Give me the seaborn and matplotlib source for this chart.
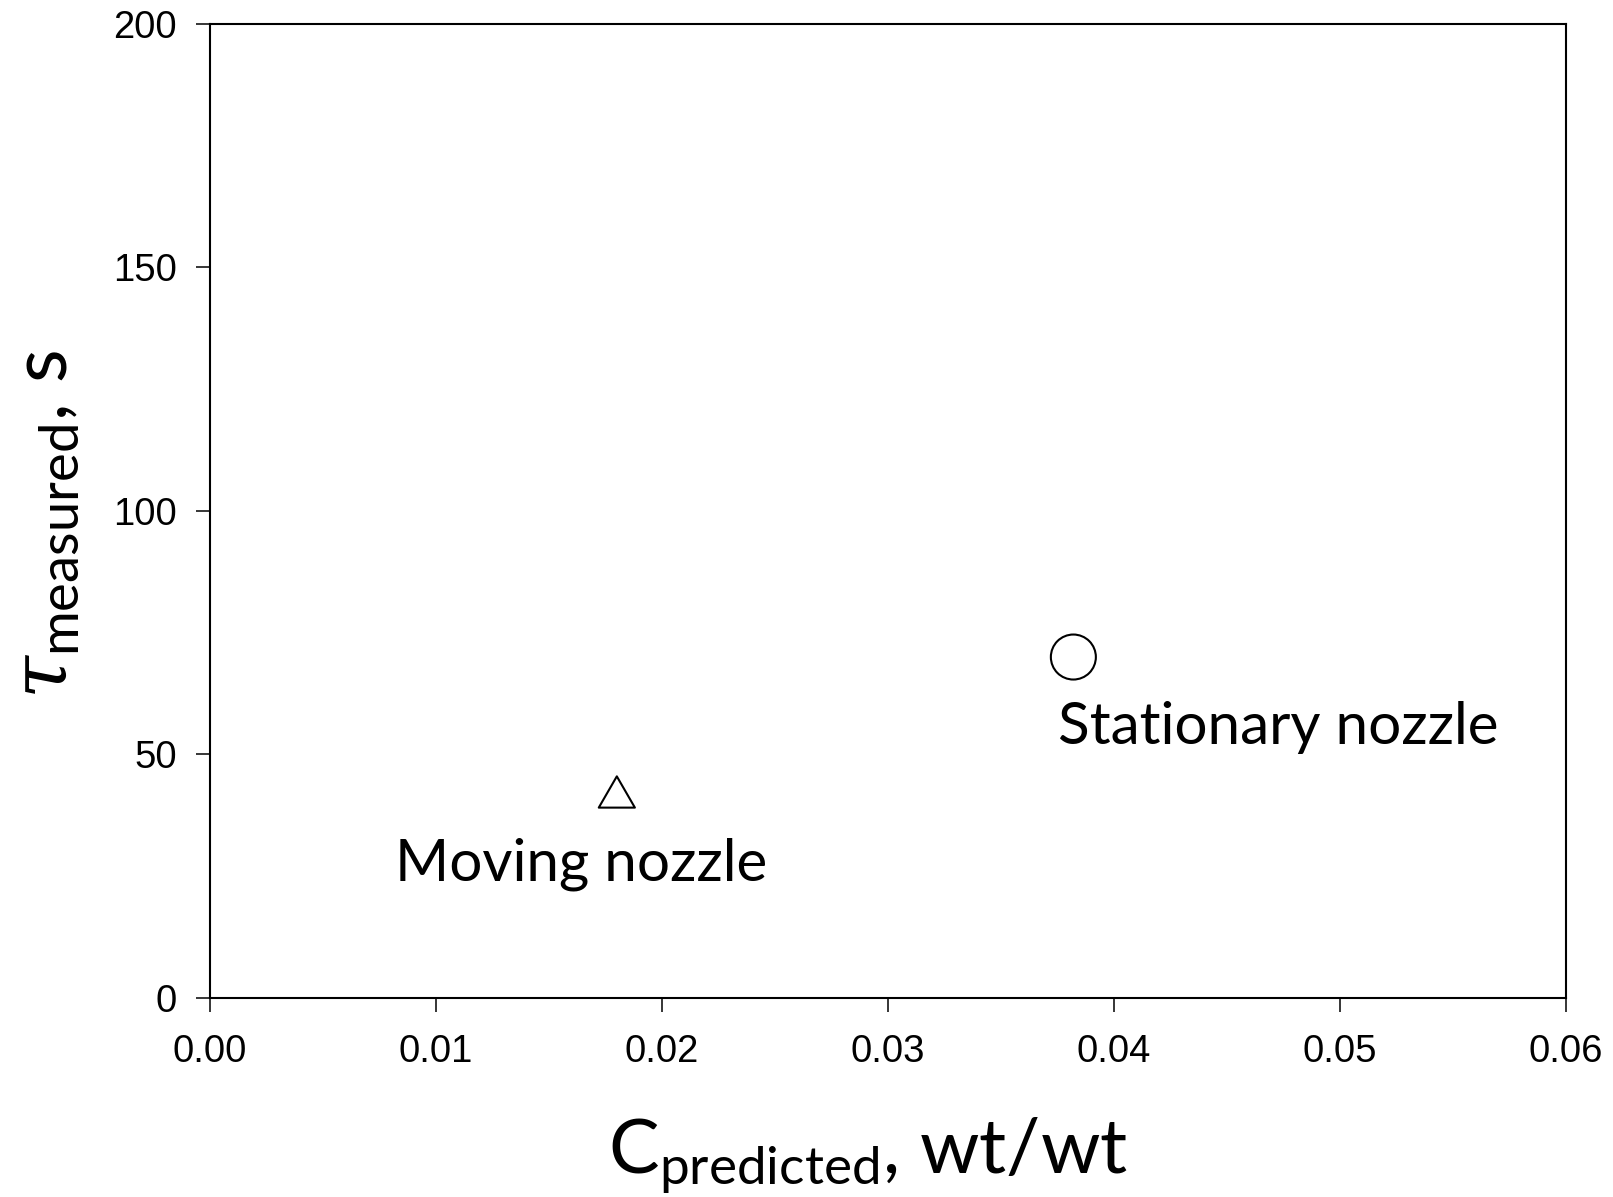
import matplotlib
matplotlib.use("Agg")
import matplotlib.pyplot as plt
from matplotlib.path import Path
import seaborn as sns
import pandas as pd

# data
nozzle = ["Moving nozzle", "Stationary nozzle"]
c_predicted = [0.0180, 0.0382]
tau_measured = [42.3, 70.0]
label_x = [0.0082, 0.0375]
label_y = [24.2, 52.2]

x_ticks = [0.00, 0.01, 0.02, 0.03, 0.04, 0.05, 0.06]
y_ticks = [0, 50, 100, 150, 200]

df = pd.DataFrame({"nozzle": nozzle, "c": c_predicted, "tau": tau_measured})

sns.set_style("ticks")
plt.rcParams["font.family"] = ["Liberation Sans", "DejaVu Sans"]
plt.rcParams["text.color"] = "black"
plt.rcParams["axes.labelcolor"] = "black"
plt.rcParams["mathtext.fontset"] = "custom"
plt.rcParams["mathtext.rm"] = "Lato"
plt.rcParams["mathtext.it"] = "DejaVu Serif:italic"

fig = plt.figure(figsize=(16.13, 11.97), dpi=100)
ax = fig.add_axes([0.1302, 0.1662, 0.8407, 0.8140])

tri = Path([(0, 0.433), (-0.5, -0.433), (0.5, -0.433), (0, 0.433)], closed=True)
marker_for = {"Moving nozzle": (tri, 676), "Stationary nozzle": ("o", 1050)}

for name, sub in df.groupby("nozzle"):
    m, s = marker_for[name]
    sns.scatterplot(data=sub, x="c", y="tau", marker=m, s=s,
                    facecolor="none", edgecolor="black", linewidth=1.5,
                    ax=ax, legend=False, zorder=3)

for name, lx, ly in zip(nozzle, label_x, label_y):
    ax.text(lx, ly, name, fontsize=42, family="Lato", color="black",
            ha="left", va="baseline")

ax.set_xlim(0, 0.06)
ax.set_ylim(0, 200)
ax.set_xticks(x_ticks)
ax.set_xticklabels([f"{t:.2f}" for t in x_ticks])
ax.set_yticks(y_ticks)

for sp in ax.spines.values():
    sp.set_linewidth(1.5)
    sp.set_color("black")
ax.tick_params(axis="both", direction="out", length=10, width=1.1,
               labelsize=27.5, colors="black")
ax.tick_params(axis="y", pad=14)
ax.tick_params(axis="x", pad=16)

ax.set_xlabel(r"$\mathregular{C_{predicted}}$, wt/wt", fontsize=54.5, family="Lato")
ax.xaxis.label.set_va("baseline")
ax.xaxis.set_label_coords(0.485, -0.1806)

ax.set_ylabel(r"$\tau_{\mathregular{measured}}$, s", fontsize=56, family="Lato")
ax.yaxis.label.set_va("baseline")
ax.yaxis.label.set_rotation_mode("anchor")
ax.yaxis.set_label_coords(-0.1055, 0.4855)

fig.savefig("out.png", dpi=100)
